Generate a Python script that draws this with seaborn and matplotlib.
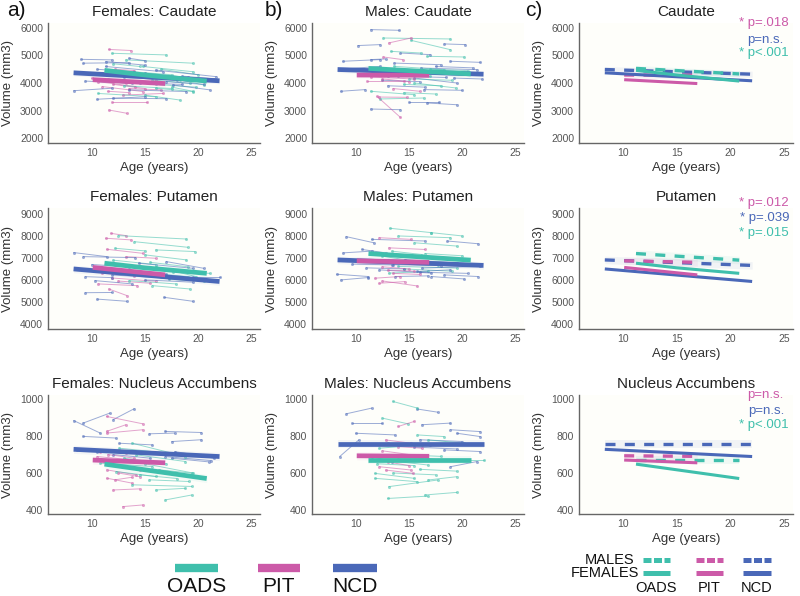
import matplotlib.pyplot as plt
import pandas as pd
import seaborn as sns
from matplotlib.lines import Line2D

GROUPS = ["OADS", "PIT", "NCD"]
COLORS = ["#3fbfac", "#cc5aa8", "#4a68b8"]
CODE = {"O": "OADS", "P": "PIT", "N": "NCD"}

REGIONS = ["Caudate", "Putamen", "Nucleus Accumbens"]
YTICKS = [[2000, 3000, 4000, 5000, 6000],
          [4000, 5000, 6000, 7000, 8000, 9000],
          [400, 600, 800, 1000]]
YLIMS = [(1820, 6180), (3770, 9270), (378, 1022)]
XTICKS = [10, 15, 20, 25]
XLIM = (5.9, 25.8)

# subject trajectories: group, age t1, age t2, volume t1, volume t2
F_CAUDATE = [
    ("P", 11.6, 13.7, 5220, 5180), ("O", 11.9, 17.0, 5080, 5020), ("O", 13.2, 19.5, 4840, 4720),
    ("N", 9.0, 11.9, 4860, 4840), ("N", 9.2, 13.5, 4720, 4740), ("N", 11.3, 15.0, 4780, 4650),
    ("O", 14.8, 19.5, 4600, 4410), ("N", 16.0, 21.7, 4470, 4230), ("N", 9.4, 13.8, 4070, 3990),
    ("N", 8.3, 11.9, 3720, 3810), ("P", 10.0, 13.2, 4170, 3990), ("P", 11.0, 14.8, 3870, 3690),
    ("O", 10.6, 16.0, 3620, 3500), ("N", 10.5, 15.0, 3410, 3500), ("O", 15.0, 18.3, 3560, 3380),
    ("O", 16.0, 19.5, 3810, 3690), ("P", 11.9, 15.2, 3320, 3320), ("P", 11.6, 13.3, 3020, 2900),
    ("N", 17.6, 21.1, 3930, 3750), ("O", 18.3, 20.5, 4110, 3930), ("P", 12.5, 16.0, 4290, 4110),
    ("N", 13.5, 18.9, 3750, 3690), ("O", 14.1, 19.5, 4350, 4170), ("P", 12.9, 16.7, 3560, 3620),
    ("N", 11.3, 16.7, 4600, 4410), ("P", 10.6, 14.1, 4050, 3870), ("N", 13.5, 15.0, 4900, 4810),
    ("O", 15.7, 19.2, 4110, 3990), ("N", 18.5, 21.5, 4250, 4150), ("O", 12.0, 14.5, 4700, 4600),
    ("P", 12.2, 14.0, 4500, 4450), ("N", 14.5, 18.5, 4000, 3950), ("O", 13.0, 17.5, 3900, 3800),
    ("P", 11.5, 13.5, 3700, 3650), ("N", 12.0, 17.0, 3450, 3430), ("O", 16.5, 20.0, 4500, 4300),
    ("O", 12.5, 17.5, 4450, 4300), ("N", 13.0, 18.0, 4200, 4100), ("P", 11.0, 13.5, 4350, 4250),
    ("O", 15.5, 20.0, 4250, 4100), ("N", 17.0, 20.5, 4050, 3950), ("P", 12.0, 15.0, 3950, 3800),
    ("O", 11.5, 15.5, 4150, 4000), ("N", 15.0, 19.0, 4350, 4200), ("O", 17.5, 19.5, 3850, 3700),
    ("P", 13.5, 16.5, 3800, 3750), ("N", 10.5, 14.0, 4500, 4400), ("O", 16.0, 19.8, 3950, 3850),
]
M_CAUDATE = [
    ("N", 11.4, 14.1, 5940, 5915), ("O", 12.6, 18.9, 5635, 5600), ("P", 13.1, 15.2, 5455, 5635),
    ("N", 10.2, 12.3, 5360, 5395), ("O", 15.2, 18.9, 5550, 5210), ("N", 18.3, 20.3, 5420, 5395),
    ("N", 8.6, 10.9, 3700, 3760), ("N", 11.4, 14.2, 3055, 3030), ("P", 12.0, 14.2, 3515, 2750),
    ("N", 15.0, 17.8, 3310, 3310), ("N", 16.7, 19.5, 3275, 3210), ("P", 12.2, 14.8, 3490, 3480),
    ("O", 12.3, 16.4, 3420, 3455), ("O", 11.4, 15.5, 3700, 3575), ("N", 8.8, 12.3, 4790, 4850),
    ("N", 8.9, 12.3, 4510, 4605), ("N", 18.9, 21.7, 4790, 4750), ("N", 19.2, 21.9, 4180, 4145),
    ("P", 11.1, 14.5, 4060, 4060), ("O", 15.5, 19.4, 4000, 3820), ("N", 16.4, 20.0, 3760, 3735),
    ("N", 14.2, 17.0, 5090, 5030), ("O", 16.7, 20.2, 4970, 4945), ("P", 12.6, 14.4, 4945, 4850),
    ("N", 13.6, 18.0, 4725, 4665), ("O", 13.0, 17.0, 4300, 4240), ("N", 15.5, 19.5, 4180, 4000),
    ("P", 11.4, 15.5, 4220, 4145), ("O", 13.6, 18.3, 4605, 4485), ("N", 16.1, 21.4, 4545, 4485),
    ("N", 11.4, 12.8, 4850, 4875), ("O", 13.3, 16.1, 5150, 5090), ("P", 13.5, 16.5, 4400, 4350),
    ("O", 14.5, 18.0, 3950, 3900), ("N", 12.5, 16.0, 4100, 4050),
    ("O", 12.0, 16.0, 4400, 4350), ("N", 14.0, 18.5, 4250, 4200), ("P", 12.5, 15.0, 4150, 4050),
    ("O", 15.0, 19.0, 4150, 4100), ("N", 10.5, 13.0, 4300, 4250), ("O", 17.0, 20.5, 4500, 4450),
    ("N", 13.0, 16.5, 3900, 3850), ("P", 13.5, 16.0, 3800, 3700), ("O", 14.5, 17.5, 3650, 3600),
    ("N", 17.5, 21.0, 4600, 4550),
]
F_PUTAMEN = [
    ("P", 11.8, 13.2, 8120, 8015), ("O", 12.5, 18.9, 8015, 7860), ("P", 11.3, 13.7, 7895, 7820),
    ("O", 14.0, 19.0, 7740, 7485), ("O", 16.0, 19.7, 7365, 7290), ("N", 8.3, 11.4, 7245, 7060),
    ("N", 9.2, 14.1, 7060, 7015), ("P", 11.4, 14.8, 7395, 7210), ("O", 12.2, 15.0, 7440, 7320),
    ("O", 15.0, 18.9, 7140, 6910), ("N", 17.0, 20.5, 6835, 6530), ("N", 19.5, 22.0, 6150, 6150),
    ("N", 9.4, 11.9, 6150, 6105), ("N", 10.3, 13.8, 5970, 5820), ("P", 10.6, 14.3, 5820, 5740),
    ("P", 11.6, 13.3, 5590, 5290), ("N", 9.4, 11.9, 5420, 5430), ("N", 10.5, 13.3, 5130, 5030),
    ("N", 16.8, 19.5, 5210, 5030), ("O", 15.7, 19.2, 5740, 5590), ("O", 13.5, 17.9, 5970, 5820),
    ("P", 11.9, 16.0, 6090, 5940), ("O", 17.3, 20.5, 6030, 5940), ("N", 11.9, 17.3, 6225, 6075),
    ("O", 17.6, 21.1, 6380, 6300), ("P", 12.2, 15.0, 6680, 6530), ("N", 14.4, 19.5, 6760, 6530),
    ("O", 16.0, 19.8, 6610, 6150), ("N", 11.0, 15.0, 6530, 6300), ("P", 13.2, 16.0, 7060, 6985),
    ("O", 13.0, 16.5, 6300, 6200), ("P", 12.0, 14.5, 6350, 6250),
    ("O", 14.5, 19.0, 6350, 6150), ("N", 12.5, 17.0, 6400, 6250), ("P", 11.0, 14.0, 6300, 6200),
    ("O", 16.5, 20.5, 6150, 6000), ("N", 15.0, 19.5, 6000, 5900), ("P", 12.5, 15.5, 5950, 5850),
    ("O", 12.0, 16.0, 6900, 6700), ("N", 10.0, 13.5, 6700, 6600), ("O", 15.5, 19.0, 6800, 6600),
    ("P", 10.5, 13.0, 6450, 6400),
]
M_PUTAMEN = [
    ("O", 13.2, 17.1, 8350, 8150), ("O", 17.1, 20.0, 8150, 8000), ("N", 9.1, 11.7, 7970, 7690),
    ("O", 14.0, 18.9, 8000, 7920), ("P", 12.2, 15.2, 7920, 7845), ("N", 11.5, 16.5, 7845, 7770),
    ("N", 18.6, 21.5, 7770, 7645), ("O", 15.5, 19.5, 7690, 7540), ("N", 10.6, 12.8, 7385, 7230),
    ("N", 8.8, 11.5, 7230, 7310), ("N", 9.7, 13.4, 6720, 6690), ("N", 8.2, 11.2, 6260, 6155),
    ("N", 8.6, 11.2, 6000, 6110), ("N", 18.3, 21.5, 6230, 6155), ("N", 17.1, 20.2, 6155, 6045),
    ("P", 11.8, 14.2, 6080, 6155), ("P", 12.2, 14.6, 5850, 5925), ("P", 12.5, 15.8, 5955, 5725),
    ("O", 14.0, 19.5, 6615, 6540), ("N", 12.2, 17.1, 6460, 6310), ("O", 13.1, 16.8, 6310, 6385),
    ("P", 12.2, 15.2, 6845, 6770), ("N", 14.6, 19.5, 6920, 6770), ("O", 12.5, 17.7, 7080, 6690),
    ("P", 13.1, 16.5, 7460, 7385), ("N", 16.2, 21.7, 6540, 6615), ("O", 13.4, 16.2, 7310, 7155),
    ("N", 15.8, 18.9, 6385, 6460), ("N", 13.7, 16.8, 6155, 6185), ("P", 13.0, 15.5, 6450, 6400),
    ("N", 13.5, 18.0, 6700, 6650), ("O", 14.5, 19.0, 6500, 6400), ("P", 12.5, 15.0, 6600, 6500),
    ("N", 16.0, 20.5, 6350, 6300), ("O", 13.0, 16.5, 6900, 6800), ("N", 15.0, 19.5, 7100, 7000),
    ("P", 13.5, 16.0, 6300, 6250), ("O", 16.5, 20.0, 7200, 7100), ("N", 11.0, 14.5, 6550, 6500),
]
F_NACC = [
    ("N", 8.3, 10.8, 884, 816), ("N", 9.2, 11.7, 870, 924), ("N", 12.0, 14.0, 888, 948),
    ("P", 11.4, 14.8, 906, 866), ("P", 11.4, 13.2, 825, 861), ("P", 11.4, 14.8, 816, 834),
    ("N", 9.2, 12.3, 798, 789), ("N", 15.4, 17.8, 812, 816), ("N", 16.9, 20.3, 825, 819),
    ("N", 17.5, 20.3, 770, 780), ("N", 8.6, 10.5, 725, 716), ("O", 13.8, 18.8, 761, 689),
    ("O", 12.6, 17.2, 734, 707), ("P", 10.5, 13.8, 689, 671), ("O", 10.8, 15.7, 653, 635),
    ("P", 11.4, 14.2, 617, 590), ("P", 11.4, 13.8, 572, 545), ("P", 12.0, 14.5, 508, 514),
    ("P", 12.9, 14.8, 418, 427), ("O", 13.8, 19.4, 536, 527), ("O", 16.9, 19.4, 454, 481),
    ("O", 15.4, 19.1, 563, 554), ("N", 16.9, 21.2, 689, 667), ("O", 16.3, 19.4, 617, 599),
    ("N", 12.6, 15.7, 761, 752), ("O", 12.3, 16.0, 608, 581), ("P", 12.6, 14.5, 644, 617),
    ("N", 17.8, 21.5, 716, 680), ("O", 14.2, 18.8, 698, 662), ("P", 10.8, 13.2, 716, 707),
    ("N", 10.2, 13.2, 671, 635), ("P", 12.2, 13.8, 563, 577), ("O", 16.0, 18.8, 508, 517),
    ("O", 13.0, 17.0, 680, 650), ("N", 14.0, 18.5, 720, 700), ("P", 11.5, 14.0, 700, 680),
    ("O", 15.0, 19.5, 650, 600), ("N", 12.0, 15.5, 700, 680), ("P", 12.5, 14.5, 600, 580),
    ("O", 14.5, 18.0, 590, 570), ("N", 17.5, 21.0, 680, 660),
]
M_NACC = [
    ("N", 9.1, 11.5, 920, 951), ("O", 13.5, 15.8, 987, 951), ("N", 15.8, 17.7, 946, 929),
    ("N", 9.7, 12.5, 870, 870), ("O", 12.5, 14.9, 897, 866), ("P", 14.0, 15.5, 852, 879),
    ("N", 16.2, 18.9, 861, 870), ("N", 10.0, 13.7, 815, 806), ("N", 18.9, 21.7, 834, 824),
    ("N", 19.5, 21.7, 815, 797), ("O", 15.8, 18.3, 806, 797), ("N", 8.5, 10.3, 689, 779),
    ("P", 12.8, 15.2, 779, 761), ("O", 12.2, 16.2, 734, 752), ("O", 16.8, 20.2, 779, 761),
    ("N", 18.3, 21.7, 725, 716), ("P", 12.2, 15.2, 634, 616), ("P", 12.8, 15.4, 616, 598),
    ("O", 11.8, 15.5, 598, 571), ("O", 11.8, 15.8, 571, 553), ("O", 13.1, 17.7, 526, 562),
    ("O", 16.8, 19.5, 562, 580), ("O", 13.0, 16.8, 462, 475), ("O", 16.5, 19.5, 481, 495),
    ("N", 18.9, 21.4, 634, 662), ("P", 14.0, 16.2, 689, 680), ("N", 14.6, 17.7, 698, 671),
    ("O", 18.9, 22.0, 671, 671), ("N", 11.5, 13.4, 689, 662), ("O", 12.5, 16.8, 671, 643),
    ("P", 14.0, 16.2, 743, 734),
    ("N", 13.0, 17.0, 760, 750), ("O", 14.0, 18.0, 700, 690), ("P", 12.5, 15.0, 720, 700),
    ("N", 15.5, 19.5, 740, 730), ("O", 12.0, 15.5, 650, 640), ("P", 13.0, 15.0, 660, 640),
    ("N", 16.0, 20.0, 780, 770), ("O", 16.0, 19.5, 620, 610), ("O", 13.5, 17.5, 600, 590),
]

# group model fits: group, age, volume
F_CAUDATE_FIT = [("N", 8.3, 4370), ("N", 22.0, 4080), ("O", 11.2, 4460), ("O", 15.0, 4290),
                 ("O", 20.8, 4070), ("P", 10.1, 4120), ("P", 16.9, 3980)]
M_CAUDATE_FIT = [("N", 8.3, 4490), ("N", 22.0, 4320), ("O", 11.2, 4530), ("O", 20.8, 4330),
                 ("P", 10.1, 4290), ("P", 16.9, 4280)]
F_PUTAMEN_FIT = [("N", 8.3, 6500), ("N", 22.0, 5930), ("O", 11.2, 6760), ("O", 15.0, 6550),
                 ("O", 20.8, 6300), ("P", 10.1, 6570), ("P", 16.9, 6230)]
M_PUTAMEN_FIT = [("N", 8.3, 6910), ("N", 22.0, 6660), ("O", 11.2, 7200), ("O", 20.8, 6900),
                 ("P", 10.1, 6870), ("P", 16.9, 6800)]
F_NACC_FIT = [("N", 8.3, 728), ("N", 22.0, 689), ("O", 11.2, 648), ("O", 20.8, 570),
              ("P", 10.1, 670), ("P", 16.9, 655)]
M_NACC_FIT = [("N", 8.3, 756), ("N", 22.0, 756), ("O", 11.2, 670), ("O", 20.8, 670),
              ("P", 10.1, 693), ("P", 16.9, 690)]
CI_HALF = [110, 170, 22]

P_LABELS = [["* p=.018", "p=n.s.", "* p<.001"],
            ["* p=.012", "* p=.039", "* p=.015"],
            ["p=n.s.", "p=n.s.", "* p<.001"]]
P_COLORS = [COLORS[1], COLORS[2], COLORS[0]]

FEMALES = [F_CAUDATE, F_PUTAMEN, F_NACC]
MALES = [M_CAUDATE, M_PUTAMEN, M_NACC]
F_FITS = [F_CAUDATE_FIT, F_PUTAMEN_FIT, F_NACC_FIT]
M_FITS = [M_CAUDATE_FIT, M_PUTAMEN_FIT, M_NACC_FIT]

PAL = dict(zip(GROUPS, COLORS))
W, H = 800, 596


def subjects_df(rows):
    recs = []
    for i, (g, a1, a2, v1, v2) in enumerate(rows):
        recs.append({"subj": i, "group": CODE[g], "age": a1, "vol": v1})
        recs.append({"subj": i, "group": CODE[g], "age": a2, "vol": v2})
    return pd.DataFrame(recs)


def fit_df(rows):
    return pd.DataFrame([{"group": CODE[g], "age": a, "vol": v} for g, a, v in rows])


def draw_fits(ax, df, half, lw, linestyle="-", band_alpha=0.08):
    for g in GROUPS:
        d = df[df.group == g]
        ax.fill_between(d.age, d.vol - half, d.vol + half, color=PAL[g], alpha=band_alpha, lw=0, zorder=3)
    sns.lineplot(data=df, x="age", y="vol", hue="group", palette=PAL, hue_order=GROUPS[::-1],
                 lw=lw, linestyle=linestyle, legend=False, ax=ax, zorder=4, solid_capstyle="butt",
                 dash_capstyle="butt")


def style_ax(ax, r, title):
    ax.set_xlim(*XLIM)
    ax.set_ylim(*YLIMS[r])
    ax.set_xticks(XTICKS)
    ax.set_yticks(YTICKS[r])
    ax.set_facecolor("#fefefa")
    for s in ["top", "right"]:
        ax.spines[s].set_visible(False)
    for s in ["left", "bottom"]:
        ax.spines[s].set_color("#666666")
        ax.spines[s].set_linewidth(1.0)
    ax.tick_params(length=0, pad=3.5, labelsize=7.5, labelcolor="#555555")
    ax.set_xlabel("Age (years)", fontsize=9.5, color="#333333", labelpad=3)
    ax.set_ylabel("Volume (mm3)", fontsize=9.5, color="#333333", labelpad=4)
    ax.set_title(title, fontsize=11, color="#222222", pad=5)


sns.set_style("white")
plt.rcParams["font.family"] = ["Liberation Sans", "DejaVu Sans"]

fig = plt.figure(figsize=(W / 100, H / 100), dpi=100)

COL_X = [(48, 260), (312, 524), (579, 793)]
ROW_Y = [(23, 143), (208, 329), (395, 514)]


def add_ax(c, r):
    (x0, x1), (y0, y1) = COL_X[c], ROW_Y[r]
    return fig.add_axes([x0 / W, 1 - y1 / H, (x1 - x0) / W, (y1 - y0) / H])


for r, region in enumerate(REGIONS):
    for c, (sex, subs, fits) in enumerate([("Females", FEMALES, F_FITS), ("Males", MALES, M_FITS)]):
        ax = add_ax(c, r)
        sns.lineplot(data=subjects_df(subs[r]), x="age", y="vol", hue="group", units="subj",
                     estimator=None, palette=PAL, lw=0.7, alpha=0.55, marker="o", markersize=2.2,
                     markeredgewidth=0, legend=False, ax=ax)
        draw_fits(ax, fit_df(fits[r]), CI_HALF[r], lw=3.4, band_alpha=0.06)
        style_ax(ax, r, f"{sex}: {region}")

    ax = add_ax(2, r)
    draw_fits(ax, fit_df(M_FITS[r]), CI_HALF[r], lw=2.4, linestyle=(0, (3.0, 2.8)), band_alpha=0.07)
    draw_fits(ax, fit_df(F_FITS[r]), 0, lw=2.2, band_alpha=0.0)
    style_ax(ax, r, region)

# p-values beside column c
P_Y = [[23, 40, 53], [203, 218, 233], [395, 411, 425]]
P_X = [[789, 783, 789], [789, 789, 789], [783, 784, 789]]
for r in range(3):
    for k in range(3):
        fig.text(P_X[r][k] / W, 1 - P_Y[r][k] / H, P_LABELS[r][k], ha="right", va="center",
                 fontsize=9.5, color=P_COLORS[k])

for lab, x in [("a)", 16), ("b)", 274), ("c)", 534)]:
    fig.text(x / W, 1 - 10 / H, lab, ha="center", va="center", fontsize=15, color="#111111")

# bottom legend under columns a/b
for g, (x0, x1) in zip(GROUPS, [(175, 218), (258, 300), (333, 377)]):
    fig.add_artist(Line2D([x0 / W, x1 / W], [1 - 568 / H] * 2, color=PAL[g], lw=6,
                          solid_capstyle="butt", transform=fig.transFigure))
    fig.text((x0 + x1) / 2 / W, 1 - 587 / H, g, ha="center", va="center", fontsize=15, color="#111111")

# legend under column c
fig.text(634 / W, 1 - 560 / H, "MALES", ha="right", va="center", fontsize=10.5, color="#111111")
fig.text(639 / W, 1 - 573 / H, "FEMALES", ha="right", va="center", fontsize=10.5, color="#111111")
for g, (x0, x1) in zip(GROUPS, [(643, 670), (696, 723), (743, 771)]):
    fig.add_artist(Line2D([x0 / W, x1 / W], [1 - 560 / H] * 2, color=PAL[g], lw=3.6,
                          linestyle=(0, (1.6, 0.5)), dash_capstyle="butt", transform=fig.transFigure))
    fig.add_artist(Line2D([x0 / W, x1 / W], [1 - 573 / H] * 2, color=PAL[g], lw=3.6,
                          solid_capstyle="butt", transform=fig.transFigure))
    fig.text((x0 + x1) / 2 / W, 1 - 588 / H, g, ha="center", va="center", fontsize=10.5, color="#111111")

fig.savefig("out.png", dpi=100, facecolor="white")
